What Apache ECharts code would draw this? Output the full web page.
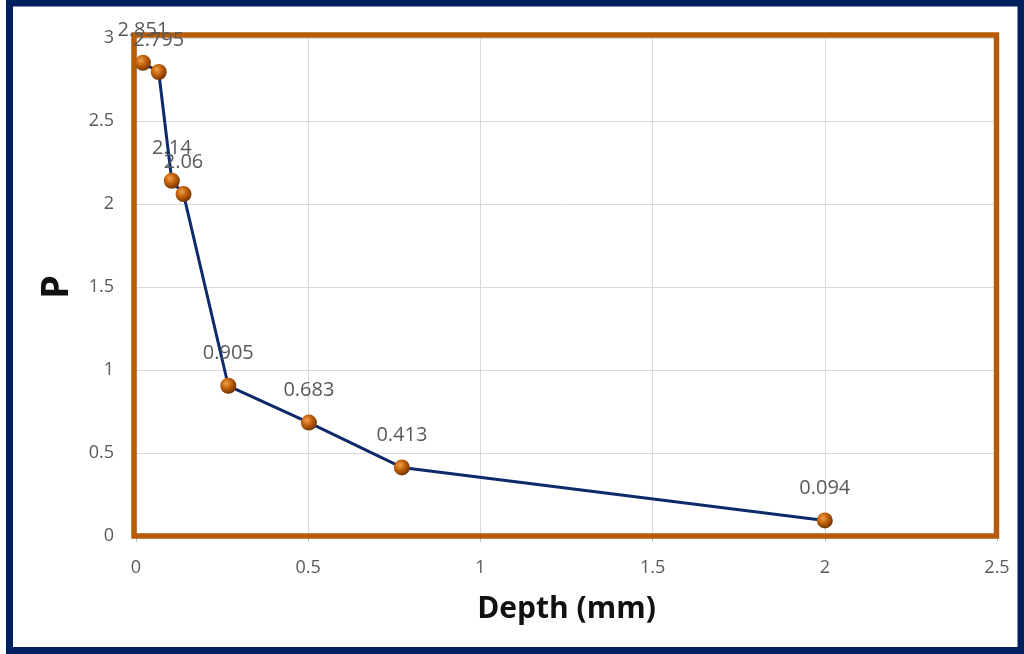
<!DOCTYPE html>
<html><head><meta charset="utf-8">
<style>html,body{margin:0;padding:0;background:#fff;}#c{width:1024px;height:654px;}</style>
<script src="https://cdn.jsdelivr.net/npm/echarts@6/dist/echarts.min.js"></script>
</head><body><div id="c"></div>
<script>
const depth = [0.02, 0.066, 0.104, 0.138, 0.268, 0.502, 0.772, 2.0];
const pValues = [2.851, 2.795, 2.14, 2.06, 0.905, 0.683, 0.413, 0.094];
const xTicks = {min: 0, max: 2.5, interval: 0.5};
const yTicks = {min: 0, max: 3, interval: 0.5};
const xTitle = 'Depth (mm)';
const yTitle = 'P';

const chart = echarts.init(document.getElementById('c'), null, {renderer: 'canvas'});
const data = depth.map((d, i) => [d, pValues[i]]);
chart.setOption({
  animation: false,
  backgroundColor: '#fff',
  grid: {left: 136, right: 27, top: 38, bottom: 118, show: false},
  xAxis: {
    type: 'value', min: xTicks.min, max: xTicks.max, interval: xTicks.interval,
    name: xTitle, nameLocation: 'middle', nameGap: 58,
    nameTextStyle: {fontFamily: 'Open Sans', fontWeight: 'bold', fontSize: 30, color: '#111'},
    axisLine: {show: true, lineStyle: {color: '#bfbfbf'}},
    axisTick: {show: true, length: 6, lineStyle: {color: '#bfbfbf'}},
    axisLabel: {color: '#595959', fontSize: 18, fontFamily: 'Open Sans', margin: 23},
    splitLine: {show: true, lineStyle: {color: '#d9d9d9', width: 1}}
  },
  yAxis: {
    type: 'value', min: yTicks.min, max: yTicks.max, interval: yTicks.interval,
    name: yTitle, nameLocation: 'middle', nameGap: 60, nameRotate: 90,
    nameTextStyle: {fontFamily: 'Open Sans', fontWeight: 'bold', fontSize: 38, color: '#111'},
    axisLine: {show: false}, axisTick: {show: false},
    axisLabel: {color: '#595959', fontSize: 18, fontFamily: 'Open Sans', margin: 22},
    splitLine: {show: true, lineStyle: {color: '#d9d9d9', width: 1}}
  },
  series: [{
    type: 'line', data: data,
    lineStyle: {color: '#0E2A6B', width: 3},
    symbol: 'circle', symbolSize: 16,
    itemStyle: {
      color: new echarts.graphic.RadialGradient(0.38, 0.35, 0.7, [
        {offset: 0, color: '#F0A04A'},
        {offset: 0.45, color: '#C4620C'},
        {offset: 1, color: '#6A3000'}
      ]),
      borderWidth: 0
    },
    label: {show: true, position: 'top', distance: 14, color: '#595959', fontSize: 20, fontFamily: 'Open Sans'},
    z: 5
  }],
  graphic: [{
    type: 'rect', silent: true, z: 1,
    shape: {x: 134, y: 35, width: 862.5, height: 501},
    style: {fill: 'none', stroke: '#B65C08', lineWidth: 5.5}
  }, {
    type: 'rect', silent: true, z: 100,
    shape: {x: 9.5, y: 3, width: 1011.5, height: 647.5},
    style: {fill: 'none', stroke: '#002060', lineWidth: 7}
  }]
});
</script></body></html>
